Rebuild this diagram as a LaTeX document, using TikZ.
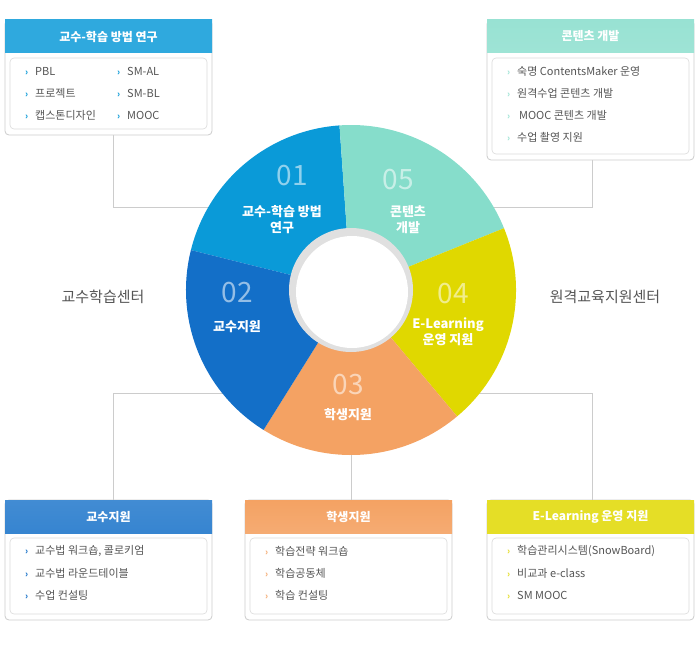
\documentclass[tikz,border=0pt]{standalone}
\usepackage{fontspec}
\setmainfont{Noto Sans CJK KR}
\usetikzlibrary{shadows}
\definecolor{cA}{HTML}{0A9AD8}\definecolor{cB}{HTML}{86DDCB}\definecolor{cC}{HTML}{E0D800}
\definecolor{cD}{HTML}{F4A263}\definecolor{cE}{HTML}{136FC8}
\definecolor{tx}{HTML}{555555}\definecolor{ln}{HTML}{CCCCCC}
\tikzset{
 outerbox/.style={draw=ln,fill=white,rounded corners=4pt,line width=0.8pt},
 innerbox/.style={draw=ln!70,fill=white,rounded corners=4pt,line width=0.6pt},
 hdr/.style={font=\fontsize{12}{14}\selectfont\bfseries,text=white},
 item/.style={font=\fontsize{11}{13}\selectfont,text=tx,anchor=west,inner sep=0pt},
 num/.style={font=\fontsize{28}{30}\selectfont,text=white,opacity=0.55},
 seglab/.style={font=\fontsize{13}{16}\selectfont\bfseries,text=white,align=center},
 conn/.style={draw=ln,line width=0.8pt},
 center/.style={font=\fontsize{15}{17}\selectfont,text=tx}
}
\newcommand{\bul}[1]{{\color{#1}\fontsize{9}{9}\selectfont\bfseries ›}\hspace{7pt}}
\newcommand{\mybox}[7]{% name x1 y1 x2 y2 colortop colorbot
 \draw[outerbox] (#2,#3) rectangle (#4,#5);
 \shade[top color=#6,bottom color=#7] (#2,#3) rectangle (#4,#3+33);
 \draw[innerbox] (#2+5,#3+38) rectangle (#4-5,#5-6);
 \coordinate (#1) at ({(#2+#4)/2},{#3+16.5});
}
\begin{document}
\begin{tikzpicture}[x=1pt,y=-1pt]
\useasboundingbox (0,0) rectangle (700,650);
% connectors
\coordinate (dc) at (351,290);
\coordinate (j1) at (113,207);\coordinate (j2) at (592,207);
\coordinate (j3) at (113,393);\coordinate (j4) at (592,393);
\coordinate (j5) at (351,455);
\draw[conn] (113,135) -- (j1) -- (215,207);
\draw[conn] (592,160) -- (j2) -- (490,207);
\draw[conn] (113,500) -- (j3) -- (265,393);
\draw[conn] (592,500) -- (j4) -- (470,393);
\draw[conn] (351,500) -- (j5);
% donut
\fill[cA] (dc) -- ++(-94:165) arc[start angle=-94,end angle=-166,radius=165] -- cycle;
\fill[cB] (dc) -- ++(-22:165) arc[start angle=-22,end angle=-94,radius=165] -- cycle;
\fill[cC] (dc) -- ++(50:165) arc[start angle=50,end angle=-22,radius=165] -- cycle;
\fill[cD] (dc) -- ++(122:165) arc[start angle=122,end angle=50,radius=165] -- cycle;
\fill[cE] (dc) -- ++(194:165) arc[start angle=194,end angle=122,radius=165] -- cycle;
\fill[black!12] (dc) circle[radius=62];
\fill[white] (352,292) circle[radius=56];
\node[num] (n1) at (292,176) {01};
\node[seglab] (l1) at (282,220) {교수-학습 방법\\연구};
\node[num] (n5) at (398,180) {05};
\node[seglab] (l5) at (408,220) {콘텐츠\\개발};
\node[num] (n4) at (453,294) {04};
\node[seglab] (l4) at (448,332) {E-Learning\\운영 지원};
\node[num] (n3) at (348,385) {03};
\node[seglab] (l3) at (348,415) {학생지원};
\node[num] (n2) at (237,293) {02};
\node[seglab] (l2) at (237,327) {교수지원};
\node[center] (cl) at (103,297) {교수학습센터};
\node[center] (cr) at (605,297) {원격교육지원센터};
% boxes
\mybox{h1}{5}{20}{212}{135}{cA!85}{cA!100!black!85}
\node[hdr] (t1) at (h1) {교수-학습 방법 연구};
\node[item] (a1) at (25,71) {\bul{cA}PBL};
\node[item] (a2) at (25,93) {\bul{cA}프로젝트};
\node[item] (a3) at (25,115) {\bul{cA}캡스톤디자인};
\node[item] (a4) at (117,71) {\bul{cA}SM-AL};
\node[item] (a5) at (117,93) {\bul{cA}SM-BL};
\node[item] (a6) at (117,115) {\bul{cA}MOOC};
\mybox{h2}{487}{20}{694}{160}{cB!85}{cB!100!black!80}
\node[hdr] (t2) at (h2) {콘텐츠 개발};
\node[item] (b1) at (507,71) {\bul{cB!100!black!80}숙명 ContentsMaker 운영};
\node[item] (b2) at (507,93) {\bul{cB!100!black!80}원격수업 콘텐츠 개발};
\node[item] (b3) at (507,115) {\bul{cB!100!black!80}\,MOOC 콘텐츠 개발};
\node[item] (b4) at (507,137) {\bul{cB!100!black!80}수업 촬영 지원};
\mybox{h3}{5}{500}{212}{620}{cE!80}{cE!100!black!85}
\node[hdr] (t3) at (h3) {교수지원};
\node[item] (c1) at (25,551) {\bul{cE}교수법 워크숍, 콜로키엄};
\node[item] (c2) at (25,573) {\bul{cE}교수법 라운드테이블};
\node[item] (c3) at (25,595) {\bul{cE}수업 컨설팅};
\mybox{h4}{245}{500}{452}{620}{cD}{cD!100!black!90}
\node[hdr] (t4) at (h4) {학생지원};
\node[item] (d1) at (265,551) {\bul{cD!100!black!90}학습전략 워크숍};
\node[item] (d2) at (265,573) {\bul{cD!100!black!90}학습공동체};
\node[item] (d3) at (265,595) {\bul{cD!100!black!90}학습 컨설팅};
\mybox{h5}{487}{500}{694}{620}{cC!85}{cC!100!black!85}
\node[hdr] (t5) at (h5) {E-Learning 운영 지원};
\node[item] (e1) at (507,551) {\bul{cC!100!black!85}학습관리시스템(SnowBoard)};
\node[item] (e2) at (507,573) {\bul{cC!100!black!85}비교과 e-class};
\node[item] (e3) at (507,595) {\bul{cC!100!black!85}SM MOOC};
\end{tikzpicture}
\end{document}
